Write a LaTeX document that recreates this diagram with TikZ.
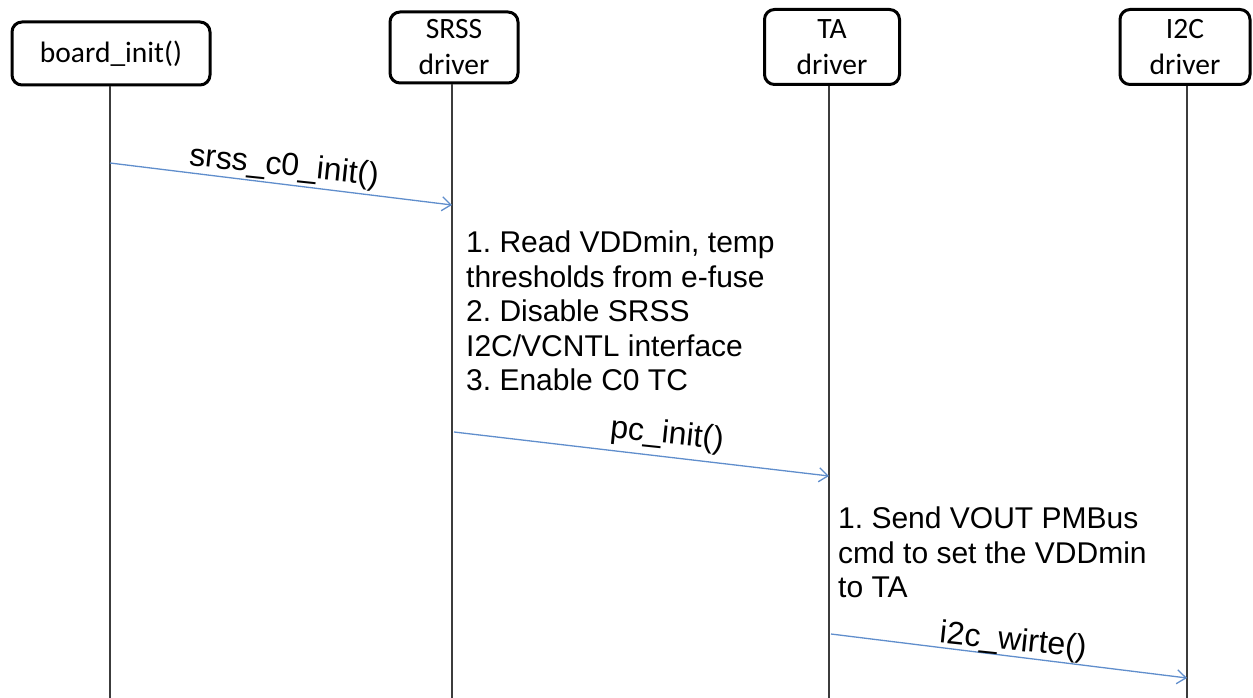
\documentclass[tikz,border=0pt]{standalone}
\usepackage{fontspec}
\setmainfont{Liberation Sans}
\newfontfamily\boxfont{Carlito}
\usetikzlibrary{arrows.meta}
\definecolor{msgblue}{RGB}{96,142,204}
\definecolor{lifegray}{RGB}{60,60,60}
\frenchspacing
\begin{document}
\begin{tikzpicture}[x=1pt,y=-1pt,
  actor/.style={draw=black, line width=3pt, rounded corners=10pt, fill=white,
    align=center, inner sep=0pt, font=\boxfont\fontsize{29.5}{36}\selectfont},
  lifeline/.style={draw=lifegray, line width=1.4pt},
  msg/.style={draw=msgblue, line width=1.3pt,
    -{Straight Barb[length=9pt,width=14pt,line width=1.3pt]}},
  msglabel/.style={inner sep=0pt, font=\fontsize{32}{36}\selectfont},
  note/.style={inner sep=0pt, align=left, anchor=north west,
    font=\fontsize{30}{34.4}\selectfont}]
\useasboundingbox (0,0) rectangle (1253,698);

% participants
\node[actor, minimum width=198pt, minimum height=63pt] (board) at (111,53.5) {board\_init()};
\node[actor, minimum width=128pt, minimum height=71pt] (srss) at (454,47.5) {SRSS\\driver};
\node[actor, minimum width=135pt, minimum height=75pt] (ta) at (832,47) {TA\\driver};
\node[actor, minimum width=130pt, minimum height=75pt] (i2c) at (1185,47) {I2C\\driver};

% lifeline ends
\coordinate (boardend) at (110,698);
\coordinate (srssend) at (452,698);
\coordinate (taend) at (829,698);
\coordinate (i2cend) at (1187,698);

\draw[lifeline] (board.south -| boardend) -- (boardend);
\draw[lifeline] (srss.south -| srssend) -- (srssend);
\draw[lifeline] (ta.south -| taend) -- (taend);
\draw[lifeline] (i2c.south -| i2cend) -- (i2cend);

% message end points on the lifelines
\coordinate (m1a) at (110,163);
\coordinate (m1b) at (452,205);
\coordinate (m2a) at (454,432);
\coordinate (m2b) at (829,476);
\coordinate (m3a) at (831,634);
\coordinate (m3b) at (1187,678);

\draw[msg] (m1a) -- (m1b);
\draw[msg] (m2a) -- (m2b);
\draw[msg] (m3a) -- (m3b);

% message labels
\node[msglabel, rotate=-6] (l1) at (284,167) {srss\_c0\_init()};
\node[msglabel, rotate=-6] (l2) at (667,435) {pc\_init()};
\node[msglabel, rotate=-6] (l3) at (1013,642) {i2c\_wirte()};

% notes
\node[note] (n1) at (466,231) {1. Read VDDmin, temp\\thresholds from e-fuse\\2. Disable SRSS\\I2C/VCNTL interface\\3. Enable C0 TC};
\node[note] (n2) at (838,507) {1. Send VOUT PMBus\\cmd to set the VDDmin\\to TA};
\end{tikzpicture}
\end{document}
